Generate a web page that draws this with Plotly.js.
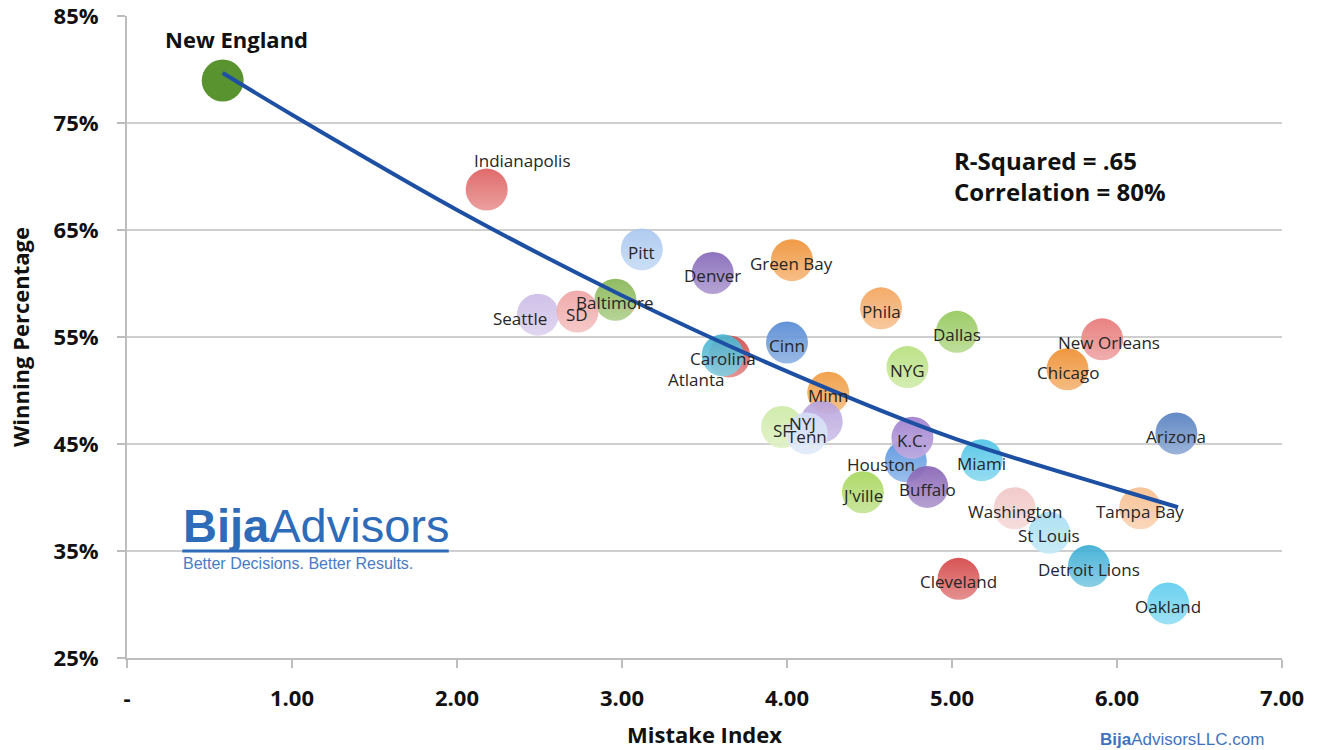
<!DOCTYPE html>
<html>
<head>
<meta charset="utf-8">
<script src="https://cdn.plot.ly/plotly-3.0.1.min.js"></script>
<style>
  html, body { margin: 0; padding: 0; background: #ffffff; }
  #chart { width: 1318px; height: 750px; }
</style>
</head>
<body>
<div id="chart"></div>
<script>
// Team names, drawn back to front so overlapping bubbles stack as shown
const teams = [
  'New England', 'Indianapolis', 'Pitt', 'Denver', 'Green Bay', 'Baltimore',
  'Seattle', 'SD', 'Atlanta', 'Carolina', 'Cinn', 'Phila', 'Dallas', 'NYG',
  'New Orleans', 'Chicago', 'Arizona', 'Minn', 'SF', 'NYJ', 'Tenn',
  'Houston', 'Buffalo', 'K.C.', "J'ville", 'Miami', 'Washington', 'St Louis',
  'Detroit Lions', 'Cleveland', 'Oakland', 'Tampa Bay'
];

// Mistake Index (x)
const mistakeIndex = [
  0.58, 2.18, 3.12, 3.55, 4.03, 2.96,
  2.49, 2.73, 3.65, 3.61, 4.00, 4.57, 5.03, 4.73,
  5.91, 5.70, 6.36, 4.25, 3.97, 4.21, 4.12,
  4.72, 4.85, 4.76, 4.46, 5.18, 5.38, 5.59,
  5.83, 5.04, 6.31, 6.14
];

// Winning percentage (y, in %)
const winningPct = [
  79.0, 68.8, 63.2, 61.0, 62.2, 58.5,
  57.1, 57.4, 53.2, 53.3, 54.5, 57.7, 55.5, 52.2,
  54.8, 52.0, 46.0, 49.8, 46.6, 47.1, 46.0,
  43.4, 41.0, 45.6, 40.5, 43.5, 39.0, 36.7,
  33.6, 32.4, 30.1, 39.0
];

// Trend curve through the fitted values
const trendX = [0.58, 1.0, 2.0, 3.0, 4.0, 5.0, 6.0, 6.37];
const trendY = [79.7, 75.8, 66.9, 58.9, 51.8, 45.6, 40.8, 39.1];

// Axis ticks
const xTickVals = [0, 1, 2, 3, 4, 5, 6, 7];
const xTickText = ['-', '1.00', '2.00', '3.00', '4.00', '5.00', '6.00', '7.00'];
const yTickVals = [25, 35, 45, 55, 65, 75, 85];
const yTickText = ['25%', '35%', '45%', '55%', '65%', '75%', '85%'];

// Bubble fill per team
const teamColor = {
  'New England': '#4b8a1e', 'Indianapolis': '#de5f5f', 'Pitt': '#a9c7ef',
  'Denver': '#8467b8', 'Green Bay': '#ef9236', 'Baltimore': '#86b654',
  'Seattle': '#cbbce6', 'SD': '#efa3a3', 'Atlanta': '#d24b4b',
  'Carolina': '#45b3cf', 'Cinn': '#558ad4', 'Phila': '#f3a45c',
  'Dallas': '#94c85a', 'NYG': '#b7e07e', 'New Orleans': '#e77777',
  'Chicago': '#ee8e2f', 'Arizona': '#5580c0', 'Minn': '#f09a3e',
  'SF': '#cdeaa6', 'NYJ': '#b7a2dd', 'Tenn': '#d3def5',
  'Houston': '#5693df', 'Buffalo': '#8662b4', 'K.C.': '#9f7fcf',
  "J'ville": '#a6d65c', 'Miami': '#4ec4e6', 'Washington': '#f1c6c6',
  'St Louis': '#a6def2', 'Detroit Lions': '#3badd4', 'Cleveland': '#d44646',
  'Oakland': '#5ecdef', 'Tampa Bay': '#f7be8e'
};

// Label offsets in pixels (dx right, dy up); everything else sits on its bubble
const labelShift = {
  'New England': [14, 41], 'Indianapolis': [36, 29], 'Seattle': [-18, -4],
  'Atlanta': [-33, -23], 'New Orleans': [7, -3], 'NYJ': [-19, -2],
  'Houston': [-25, -3]
};

function lighten(hex, t) {
  const n = parseInt(hex.slice(1), 16);
  const r = (n >> 16) & 255, g = (n >> 8) & 255, b = n & 255;
  const m = c => Math.round(c + (255 - c) * t);
  return 'rgb(' + m(r) + ',' + m(g) + ',' + m(b) + ')';
}

const fills = teams.map(t => teamColor[t]);
const tops = teams.map(t => t === 'New England' ? teamColor[t] : lighten(teamColor[t], 0.35));

const bubbles = {
  type: 'scatter',
  mode: 'markers',
  x: mistakeIndex,
  y: winningPct,
  text: teams,
  hoverinfo: 'text',
  marker: {
    size: 42,
    color: fills,
    opacity: 0.92,
    line: { width: 0 },
    gradient: { type: 'vertical', color: tops }
  },
  showlegend: false
};

const trend = {
  type: 'scatter',
  mode: 'lines',
  x: trendX,
  y: trendY,
  line: { color: '#1d4fa3', width: 4, shape: 'spline', smoothing: 0.8 },
  hoverinfo: 'skip',
  showlegend: false
};

const annotations = teams.map((t, i) => {
  const s = labelShift[t] || [0, -3];
  const big = t === 'New England';
  return {
    x: mistakeIndex[i], y: winningPct[i], xref: 'x', yref: 'y',
    text: big ? '<b>' + t + '</b>' : t,
    showarrow: false,
    xanchor: 'center', yanchor: 'middle',
    xshift: s[0], yshift: s[1],
    font: { family: 'Open Sans, sans-serif', size: big ? 22 : 17, color: big ? '#111111' : '#262626' }
  };
});

// Fit statistics
annotations.push({
  x: 5.0, y: 70.05, xref: 'x', yref: 'y',
  xanchor: 'left', yanchor: 'middle', align: 'left', showarrow: false,
  text: '<b>R-Squared = .65</b><br><b>Correlation = 80%</b>',
  font: { family: 'Open Sans, sans-serif', size: 24, color: '#111111' }
});

// Company mark in the lower left
annotations.push({
  x: 0.33, y: 35, xref: 'x', yref: 'y',
  xanchor: 'left', yanchor: 'bottom', yshift: -3, showarrow: false,
  text: '<b>Bija</b><span style="font-weight:300">Advisors</span>',
  font: { family: 'Liberation Sans, Arial, sans-serif', size: 47, color: '#2e6bb8' }
});
annotations.push({
  x: 0.33, y: 35, xref: 'x', yref: 'y',
  xanchor: 'left', yanchor: 'top', yshift: -2, showarrow: false,
  text: 'Better Decisions. Better Results.',
  font: { family: 'Liberation Sans, Arial, sans-serif', size: 16, color: '#4a7bc2' }
});

// Web address under the plot
annotations.push({
  x: 0.913, y: -0.127, xref: 'paper', yref: 'paper',
  xanchor: 'center', yanchor: 'middle', showarrow: false,
  text: '<b>Bija</b>AdvisorsLLC.com',
  font: { family: 'Liberation Sans, Arial, sans-serif', size: 17, color: '#3f74bd' }
});

const shapes = [{
  type: 'line', xref: 'x', yref: 'y',
  x0: 0.335, x1: 1.95, y0: 35, y1: 35,
  line: { color: '#2e6bb8', width: 3 }
}];

const axisFont = { family: 'Open Sans, sans-serif', size: 22, color: '#111111', weight: 'bold' };

const layout = {
  width: 1318, height: 750,
  margin: { l: 127, r: 36, t: 16, b: 92 },
  paper_bgcolor: '#ffffff', plot_bgcolor: '#ffffff',
  xaxis: {
    range: [0, 7], tickvals: xTickVals, ticktext: xTickText,
    showgrid: false, zeroline: false,
    showline: true, linecolor: '#bdbdbd', linewidth: 2,
    ticks: 'outside', ticklen: 8, tickwidth: 2, tickcolor: '#bdbdbd',
    ticklabelstandoff: 12,
    tickfont: axisFont,
    title: { text: '<b>Mistake Index</b>', font: axisFont, standoff: 16 }
  },
  yaxis: {
    range: [25, 85.03], tickvals: yTickVals, ticktext: yTickText,
    showgrid: true, gridcolor: '#cfcfcf', gridwidth: 2, zeroline: false,
    showline: true, linecolor: '#bdbdbd', linewidth: 2,
    ticks: 'outside', ticklen: 8, tickwidth: 2, tickcolor: '#bdbdbd',
    ticklabelstandoff: 14,
    tickfont: axisFont,
    title: { text: '<b>Winning Percentage</b>', font: axisFont, standoff: 18 }
  },
  annotations: annotations,
  shapes: shapes,
  hovermode: 'closest'
};

Plotly.newPlot('chart', [bubbles, trend], layout, { displayModeBar: false, responsive: false });
</script>
</body>
</html>
